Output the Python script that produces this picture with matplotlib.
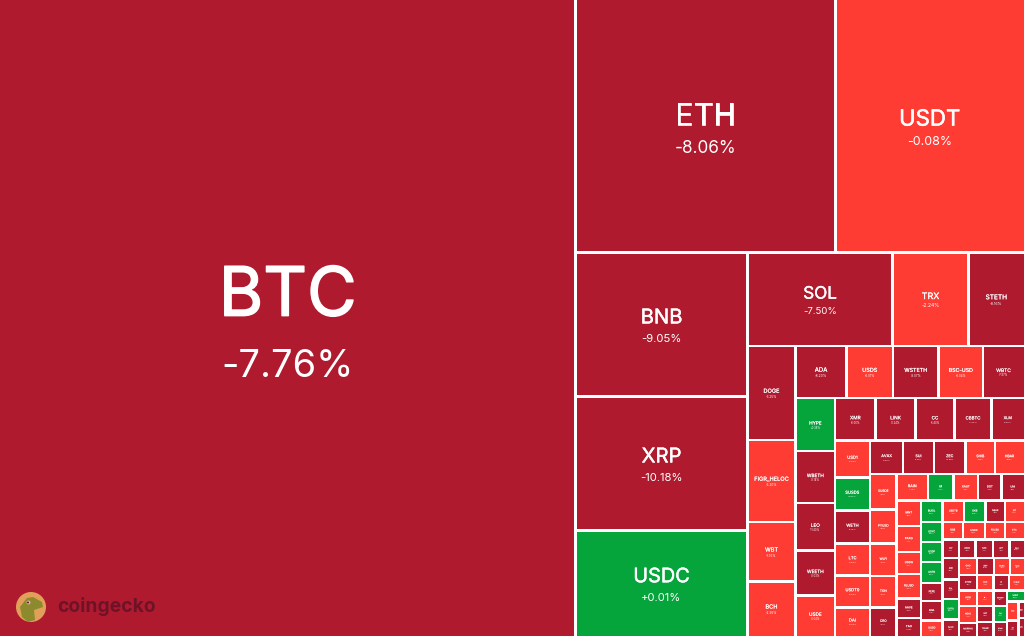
import matplotlib
matplotlib.use("Agg")
import matplotlib.pyplot as plt
import matplotlib.patheffects as pe
from matplotlib.patches import Rectangle, Circle, Polygon

plt.rcParams['font.family'] = ['Inter', 'DejaVu Sans']

names = ["BTC","ETH","USDT","BNB","XRP","USDC","SOL","TRX","STETH",
 "DOGE","FIGR_HELOC","WBT","BCH","ADA","USDS","WSTETH","BSC-USD","WBTC",
 "HYPE","WBETH","LEO","WEETH","USDE","XMR","LINK","CC","CBBTC","XLM",
 "USD1","SUSDS","WETH","LTC","USDT0","DAI","AVAX","SUI","ZEC","SHIB","HBAR",
 "SUSDE","PYUSD","WLFI","TON","CRO","RAIN","M","XAUT","DOT","UNI",
 "MNT","PAXG","USDG","RLUSD","AAVE","TAO",
 "BUIDL","USYC","USDF","USTB","PEPE","ENA","OUSG",
 "USDTB","OKB","NEAR","GT",
 "BGB","USD0","FDUSD","ETC",
 "ICP","ONDO","KAS","APT","WLD",
 "ARB","POL","EUTBL","ALGO",
 "GHO","SKY","EURC","TUSD",
 "ATOM","KCS","PI","SYRUP",
 "USDD","NEXO","MORPHO",
 "FIL","VET","TRUMP",
 "RENDER","FLR","BONK",
 "USDY",
 "XDC","SEI","JUP","CRV"]
changes = [-7.76,-8.06,-0.08,-9.05,-10.18,0.01,-7.50,-2.24,-8.16,
 -6.25,-3.20,-1.76,-2.36,-8.20,-0.01,-8.07,-0.04,-7.87,
 0.38,-8.14,-11.40,-8.03,-0.04,-8.06,-8.24,-5.40,-7.44,-9.00,
 -0.02,0.08,-8.10,-4.60,-0.05,-0.03,-9.60,-9.90,-14.00,-4.50,-4.60,
 -0.05,-0.02,-3.30,-3.20,-5.60,-1.40,1.75,-1.20,-8.90,-9.20,
 -3.80,-1.10,-0.02,-0.03,-9.80,-10.40,
 0.01,0.02,0.03,0.01,-9.10,-11.30,-0.01,
 -0.02,0.40,-9.50,-1.90,
 -2.60,-0.03,-0.02,-3.10,
 -8.20,-9.90,-7.30,-8.40,-10.20,
 -9.00,-8.20,0.05,-7.60,
 -0.05,-10.10,-0.02,-0.01,
 -7.90,-2.20,-8.80,-2.20,
 -0.04,-3.70,-11.00,
 -1.30,-6.40,-9.40,
 -7.10,1.20,-10.20,
 0.05,
 -1.90,-8.30,-8.60,-7.20]
caps = [366018,65650,47596,24768,23048,18146,13558,7106,5189,
 4512,3936,2856,2616,2652,2418,2366,2314,2132,
 2094,2054,1876,1778,1600,1721,1700,1658,1573,1381,
 1295,1155,1155,1120,1120,998,1106,1039,1055,988,972,
 941,901,861,835,755,835,676,649,623,596,
 625,637,539,600,478,441,
 462,430,430,451,387,419,333,
 462,462,419,408,
 359,385,350,333,
 305,305,324,305,268,
 355,322,338,272,
 306,289,272,238,
 279,256,240,233,
 279,306,234,
 256,264,231,
 209,216,189,
 187,
 218,178,91,99]

value = dict(zip(names, caps))
change = dict(zip(names, changes))

# treemap nesting, built from the innermost group out (H = side by side, V = stacked)
n = names
def H_(*c): return ('H', list(c))
def V_(*c): return ('V', list(c))
t = H_(V_(*n[97:99]), V_(*n[99:101]))
t = V_(n[96], t)
t = H_(V_(*n[87:90]), V_(*n[90:93]), V_(*n[93:96]), t)
t = V_(H_(*n[79:83]), H_(*n[83:87]), t)
t = H_(V_(*n[75:79]), t)
t = V_(H_(*n[62:66]), H_(*n[66:70]), H_(*n[70:75]), t)
t = H_(V_(*n[55:62]), t)
t = H_(V_(*n[49:55]), t)
t = V_(H_(*n[44:49]), t)
t = H_(V_(*n[39:44]), t)
t = V_(H_(*n[34:39]), t)
t = H_(V_(*n[28:34]), t)
t = V_(H_(*n[23:28]), t)
t = H_(V_(*n[18:23]), t)
t = V_(H_(*n[13:18]), t)
t = H_(V_(*n[9:13]), t)
t = V_(H_(*n[6:9]), t)
t = H_(V_(*n[3:6]), t)
t = V_(H_(*n[1:3]), t)
tree = H_(n[0], t)

W, H = 1024, 636
DARK, RED, GREEN = '#B01A2E', '#FF3C34', '#05A53C'

def total(node):
    return value[node] if isinstance(node, str) else sum(total(c) for c in node[1])

rects = {}
def layout(node, x, y, w, h):
    if isinstance(node, str):
        rects[node] = (x, y, w, h)
        return
    s = total(node)
    for c in node[1]:
        f = total(c) / s
        if node[0] == 'H':
            layout(c, x, y, w * f, h)
            x += w * f
        else:
            layout(c, x, y, w, h * f)
            y += h * f
layout(tree, 0, 0, W, H)

fig = plt.figure(figsize=(10.24, 6.36), dpi=100, facecolor='white')
ax = fig.add_axes([0, 0, 1, 1])
ax.set_xlim(0, W)
ax.set_ylim(H, 0)
ax.axis('off')

PX = 72 / 100
gap = 1.1
for name in names:
    x, y, w, h = rects[name]
    x0 = x + gap if x > 0.5 else 0
    y0 = y + gap if y > 0.5 else 0
    x1 = x + w - gap if x + w < W - 0.5 else W
    y1 = y + h - gap if y + h < H - 0.5 else H
    c = change[name]
    col = GREEN if c > 0 else (RED if c > -5 else DARK)
    ax.add_patch(Rectangle((x0, y0), x1 - x0, y1 - y0, fc=col, ec='none'))
    em = 0.118 * min(w, 1.6 * h)
    cx, cy = x + w / 2, y + h / 2
    ax.text(cx, cy - 0.30 * em, name, color='white', fontsize=em * PX, ha='center', va='center',
            path_effects=[pe.withStroke(linewidth=em * 0.016, foreground='white')])
    ax.text(cx, cy + 0.72 * em, f"{c:+.2f}%", color='white',
            fontsize=em * 0.56 * PX, ha='center', va='center')

# logo
ax.add_patch(Circle((31, 607), 15, fc='#E0A05A', ec='none', zorder=5))
ax.add_patch(Polygon([(20, 607), (27, 598), (33, 597), (42, 602), (43, 607), (34, 610),
                      (35, 620), (28, 622), (22, 617)], fc='#8C8A2C', ec='none', zorder=6))
ax.add_patch(Circle((28.5, 602.5), 2, fc='#E8B0B0', ec='none', zorder=7))
ax.add_patch(Circle((28, 602.5), 1, fc='#7A1530', ec='none', zorder=8))
ax.text(57, 606, 'coingecko', color='#6E1327', fontsize=19.3 * PX, fontweight='bold', va='center', ha='left', zorder=6)

fig.savefig('out.png', dpi=100, facecolor='white')
